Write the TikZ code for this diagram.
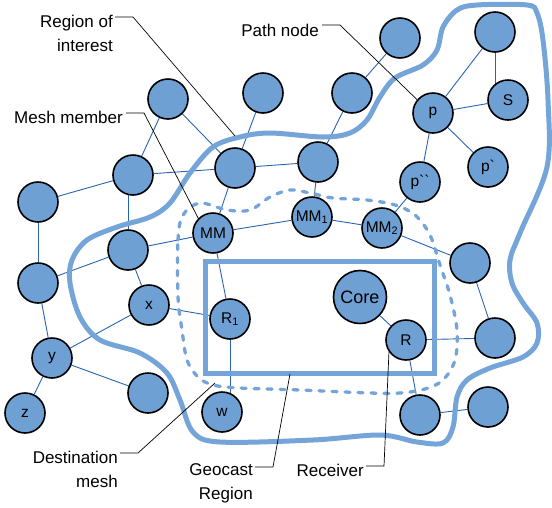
\documentclass[tikz,border=0pt]{standalone}
\usepackage{fontspec}
\setmainfont{Liberation Sans}
\usetikzlibrary{calc}
\definecolor{nodefill}{RGB}{110,160,212}
\definecolor{regionc}{RGB}{116,164,216}
\definecolor{edgec}{RGB}{40,100,180}
\pgfdeclarelayer{back}
\pgfdeclarelayer{mid}
\pgfsetlayers{back,mid,main}
\begin{document}
\begin{tikzpicture}[x=1pt,y=-1pt,
  nd/.style={circle,draw=black,line width=1.6pt,fill=nodefill,minimum size=40pt,inner sep=0pt,font=\fontsize{15.5}{15.5}\selectfont},
  bignd/.style={nd,minimum size=53pt,font=\fontsize{18}{18}\selectfont},
  edge/.style={draw=edgec,line width=0.9pt},
  region/.style={draw=regionc,line width=5pt},
  dmesh/.style={draw=regionc,line width=3.3pt,dash pattern=on 5pt off 8pt,line cap=round},
  lbl/.style={font=\fontsize{17}{24}\selectfont,align=right,inner sep=0pt},
  leader/.style={draw=black,line width=0.7pt}]
\useasboundingbox (0,0) rectangle (552,507);
% nodes
\node[nd] (A) at (168,99) {};
\node[nd] (N263) at (263,93) {};
\node[nd] (N352) at (352,93) {};
\node[nd] (N400) at (400,38) {};
\node[nd] (TR) at (495,32) {};
\node[nd] (B) at (133,175) {};
\node[nd] (C) at (38,202) {};
\node[nd] (D) at (235,168) {};
\node[nd] (H) at (318,162) {};
\node[nd] (p) at (433,113) {p};
\node[nd] (S) at (508,100) {S};
\node[nd] (pp) at (488,167) {p\textasciigrave};
\node[nd] (ppp) at (420,182) {p\textasciigrave\textasciigrave};
\node[nd] (MM) at (213,233) {MM};
\node[nd] (MM1) at (312,217) {MM\textsubscript{1}};
\node[nd] (MM2) at (382,228) {MM\textsubscript{2}};
\node[nd] (E) at (128,250) {};
\node[nd] (F) at (38,283) {};
\node[nd] (I) at (470,263) {};
\node[nd] (x) at (149,305) {x};
\node[nd] (R1) at (230,319) {R\textsubscript{1}};
\node[bignd] (Core) at (360,297) {Core};
\node[nd] (R) at (406,340) {R};
\node[nd] (J) at (495,338) {};
\node[nd] (y) at (52,358) {y};
\node[nd] (G) at (148,393) {};
\node[nd] (z) at (25,413) {z};
\node[nd] (w) at (222,412) {w};
\node[nd] (K) at (420,415) {};
\node[nd] (L) at (488,407) {};
% edges
\begin{pgfonlayer}{back}
\draw[edge] (A) -- (B);
\draw[edge] (A) -- (D);
\draw[edge] (B) -- (D);
\draw[edge] (C) -- (B);
\draw[edge] (E) -- (E |- B);
\draw[edge] (D) -- (MM);
\draw[edge] (N263) -- (D);
\draw[edge] (D) -- (H);
\draw[edge] (C) -- (F);
\draw[edge] (E) -- (MM);
\draw[edge] (E) -- (F);
\draw[edge] (E) -- (x);
\draw[edge] (F) -- (y);
\draw[edge] (x) -- (y);
\draw[edge] (x) -- (R1);
\draw[edge] (y) -- (G);
\draw[edge] (y) -- (z);
\draw[edge] ($(G)+(0,11)$) -- ($(G)+(0,11)$ -| w);
\draw[edge] (MM) -- (R1);
\draw[edge] (R1) -- (R1 |- w);
\draw[edge] (MM) -- (MM1);
\draw[edge] (MM1) -- (MM2);
\draw[edge] (MM1) -- (H);
\draw[edge] (H) -- (N352);
\draw[edge] (N352) -- (N400);
\draw[edge] (MM2) -- (ppp);
\draw[edge] ($(MM2)+(-12,0)$) -- ($(MM2)+(-12,0)$ |- Core);
\draw[edge] (MM2) -- (I);
\draw[edge] (Core) -- (R);
\draw[edge] (R) -- (J);
\draw[edge] (R) -- (K);
\draw[edge] (I) -- (J);
\draw[edge] ($(L)+(-3,0)$) -- ($(L)+(-3,0)$ |- J);
\draw[edge] (K) -- (L);
\draw[edge] (p) -- (TR);
\draw[edge] (TR) -- (TR |- S);
\draw[edge] (p) -- (S);
\draw[edge] (p) -- (pp);
\draw[edge] ($(S)+(-8,0)$) -- ($(S)+(-8,0)$ |- pp);
\draw[edge] (p) -- (ppp);
\draw[edge] ($(ppp)+(0,5)$) -- ($(ppp)+(0,5)$ -| pp);
\end{pgfonlayer}
% regions
\begin{pgfonlayer}{mid}
\draw[region] plot[smooth cycle, tension=0.55] coordinates {
 (270,133) (323,137) (350,133) (367,120) (380,97) (395,78) (423,65) (437,50)
 (443,27) (457,10) (477,5) (527,5) (537,13) (543,40) (548,100) (547,167)
 (520,233) (510,260) (512,283) (523,303) (537,323) (537,343) (523,357)
 (490,368) (467,380) (457,397) (453,427) (443,443) (417,442) (380,435)
 (313,440) (220,442) (193,432) (180,400) (167,373) (140,353) (100,340)
 (80,317) (70,283) (72,260) (87,240) (117,227) (150,217) (170,203)
 (190,173) (213,147) (240,137)};
\draw[dmesh] plot[smooth cycle, tension=0.55] coordinates {
 (178,297) (178,240) (183,215) (200,203) (227,210) (250,210) (270,197)
 (290,190) (310,193) (333,198) (367,200) (395,205) (415,215) (430,235)
 (440,265) (450,295) (457,330) (455,360) (443,380) (425,389) (400,393)
 (370,393) (300,390) (240,388) (213,385) (198,377) (187,360) (182,330)};
\draw[region] (205,261) rectangle (434,373);
\end{pgfonlayer}
% labels
\node[lbl,anchor=east] (roi) at (113,33) {Region of\\interest};
\node[lbl,anchor=east] (mem) at (123,117) {Mesh member};
\node[lbl,anchor=east] (pn) at (319,30) {Path node};
\node[lbl,anchor=east] (dm) at (118,469) {Destination\\mesh};
\node[lbl,anchor=east] (gr) at (253,483) {Geocast\\Region};
\node[lbl,anchor=east] (rc) at (364,470) {Receiver};
\coordinate (roiEnd) at (235,136);
\coordinate (dmEnd) at (215,383);
\coordinate (grEnd) at (290,374);
\draw[leader] (115,17) -- (133,17) -- (roiEnd);
\draw[leader] (126,113) -- (144,113) -- (MM.135);
\draw[leader] (322,25) -- (340,25) -- (p.140);
\draw[leader] (120,453) -- (138,453) -- (dmEnd);
\draw[leader] (255,467) -- (273,467) -- (grEnd);
\draw[leader] (366,466) -- (384,466) -- (R.215);
\end{tikzpicture}
\end{document}
